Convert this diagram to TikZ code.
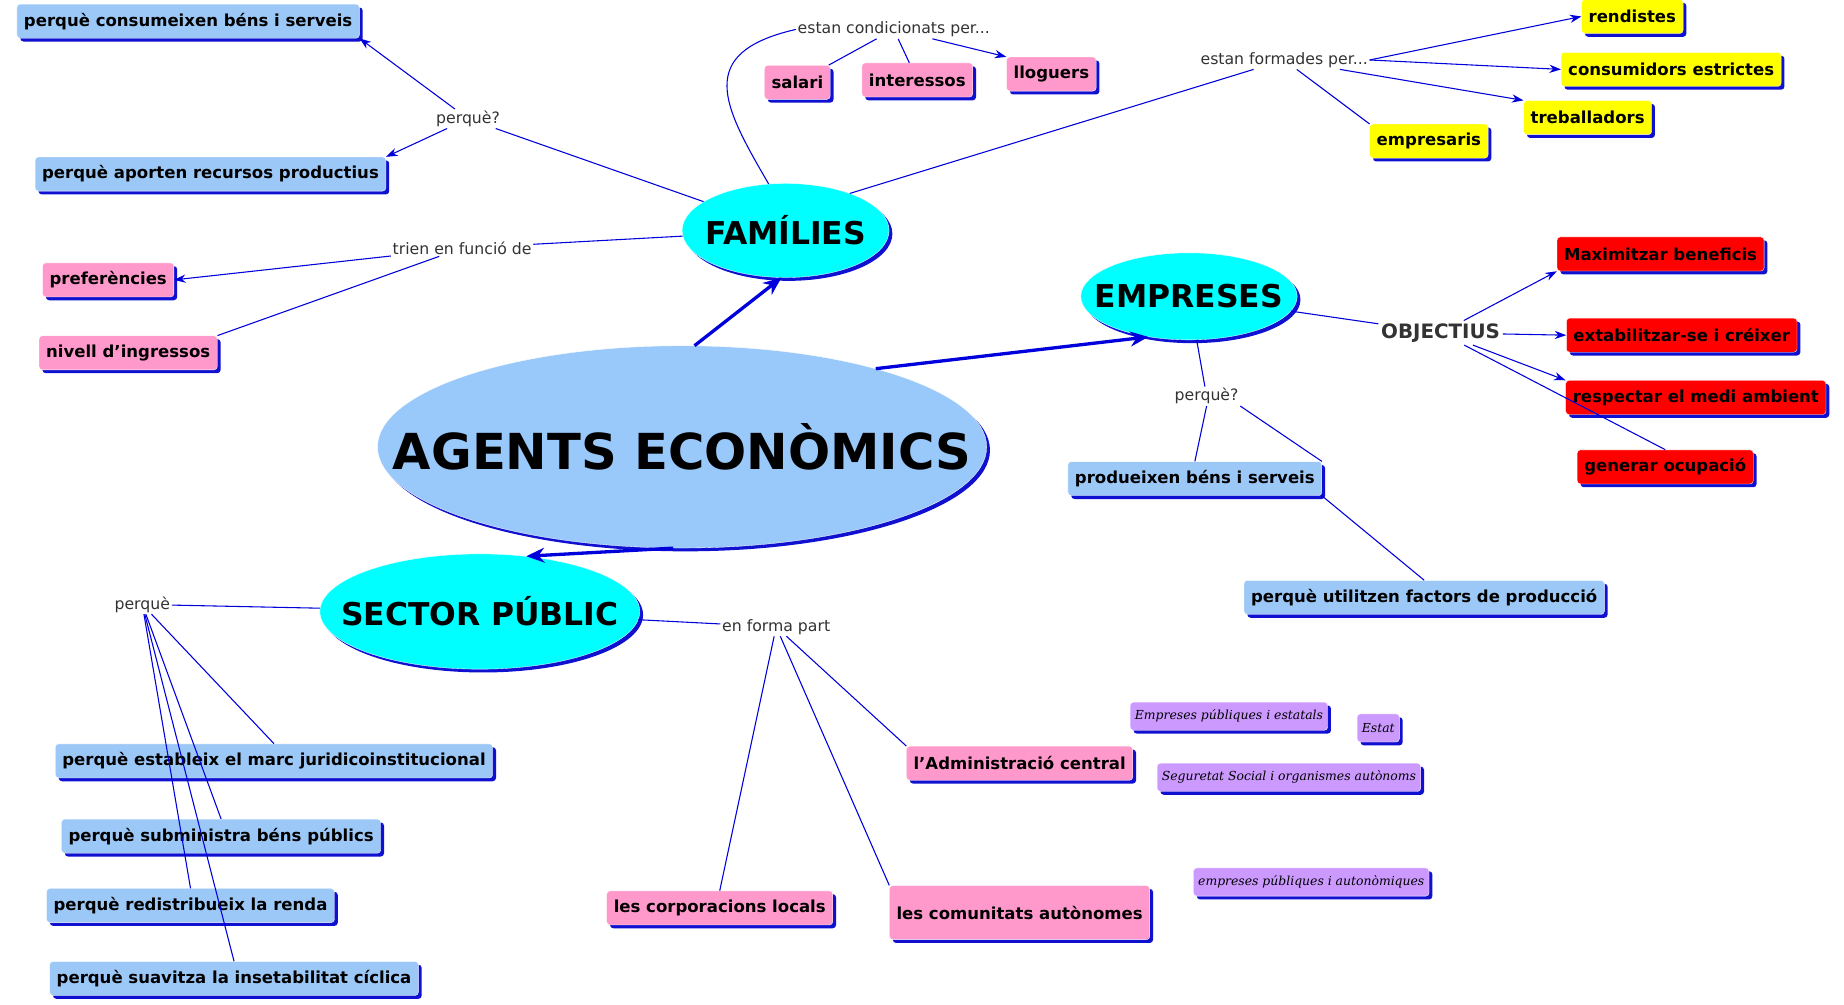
\documentclass[tikz,border=0pt]{standalone}
\usepackage{fontspec}
\setmainfont{DejaVu Sans}
\newfontfamily\handfont{DejaVu Serif}
\usetikzlibrary{arrows.meta, positioning, shapes.geometric, shadows}
\definecolor{skyblue}{HTML}{99C8FA}
\definecolor{topiccyan}{HTML}{00FFFF}
\definecolor{boxblue}{HTML}{9CC8F8}
\definecolor{pinkbox}{HTML}{FF99CC}
\definecolor{yellowbox}{HTML}{FFFF00}
\definecolor{redbox}{HTML}{FF0000}
\definecolor{purplebox}{HTML}{CC99FF}
\definecolor{linkblue}{HTML}{0000DD}
\definecolor{shadowblue}{HTML}{1010D0}
\tikzset{
  shade/.style={drop shadow={shadow xshift=4pt, shadow yshift=-4pt, fill=shadowblue, opacity=1}},
  box/.style={rectangle, rounded corners=4pt, shade, draw=white, font=\fontsize{20}{23}\selectfont\bfseries,
    minimum height=1.45cm, inner xsep=0.3cm},
  bluebox/.style={box, fill=boxblue},
  pinkb/.style={box, fill=pinkbox},
  yellowb/.style={box, fill=yellowbox},
  redb/.style={box, fill=redbox},
  purpleb/.style={box, fill=purplebox, font=\fontsize{15}{17}\selectfont\handfont\itshape, minimum height=1.2cm, inner xsep=0.2cm},
  topic/.style={ellipse, fill=topiccyan, draw=white, shade, inner sep=0pt},
  topictext/.style={font=\fontsize{38}{42}\selectfont\bfseries},
  lbl/.style={text=black!80, font=\fontsize{19}{22}\selectfont, fill=white, inner sep=2pt},
  link/.style={linkblue, line width=1.3pt},
  arr/.style={link, -{Stealth[length=14pt, width=10pt]}},
  bigarr/.style={linkblue, line width=4pt, -{Stealth[length=22pt, width=18pt]}}
}
\begin{document}
\begin{tikzpicture}[x=0.05cm, y=-0.05cm]
  \useasboundingbox[fill=white] (0,0) rectangle (1568,854);

  % central concept and the three agents
  \node[ellipse, fill=skyblue, draw=white, shade, minimum width=25.9cm, minimum height=8.6cm, inner sep=0pt] (agents) at (580,380) {};
  \node[font=\fontsize{60}{64}\selectfont\bfseries] at (agents) {AGENTS ECONÒMICS};
  \node[topic, minimum width=8.8cm, minimum height=4cm] (families) at (668,196) {};
  \node[topictext] at (families) {FAMÍLIES};
  \node[topic, minimum width=9.2cm, minimum height=3.7cm] (empreses) at (1011,252) {};
  \node[topictext] at (empreses) {EMPRESES};
  \node[topic, minimum width=13.6cm, minimum height=4.9cm] (sector) at (408,520) {};
  \node[topictext] at (sector) {SECTOR PÚBLIC};

  % famílies
  \node[lbl] (fperque) at (398,101) {perquè?};
  \node[bluebox] (consumeixen) at (160,18) {perquè consumeixen béns i serveis};
  \node[bluebox] (aporten) at (179,148) {perquè aporten recursos productius};
  \node[lbl] (trien) at (393,211) {trien en funció de};
  \node[pinkb] (preferencies) at (92,238) {preferències};
  \node[pinkb] (nivell) at (109,300) {nivell d'ingressos};
  \node[lbl] (condicionats) at (760,25) {estan condicionats per...};
  \node[pinkb] (salari) at (678,70) {salari};
  \node[pinkb] (interessos) at (780,68) {interessos};
  \node[pinkb] (lloguers) at (894,63) {lloguers};
  \node[lbl] (formades) at (1092,51) {estan formades per...};
  \node[yellowb] (rendistes) at (1388,14) {rendistes};
  \node[yellowb] (consumidors) at (1421,59) {consumidors estrictes};
  \node[yellowb] (treballadors) at (1350,100) {treballadors};
  \node[yellowb] (empresaris) at (1215,120) {empresaris};

  % empreses
  \node[text=black!80, font=\fontsize{24}{26}\selectfont\bfseries] (objectius) at (1225,283) {OBJECTIUS};
  \node[redb] (maximitzar) at (1412,216) {Maximitzar beneficis};
  \node[redb] (extabilitzar) at (1430,285) {extabilitzar-se i créixer};
  \node[redb] (respectar) at (1442,338) {respectar el medi ambient};
  \node[redb] (ocupacio) at (1416,397) {generar ocupació};
  \node[lbl] (eperque) at (1026,337) {perquè?};
  \node[bluebox] (produeixen) at (1016,407) {produeixen béns i serveis};
  \node[bluebox] (utilitzen) at (1211,508) {perquè utilitzen factors de producció};

  % sector públic
  \node[lbl] (sperque) at (121,514) {perquè};
  \node[bluebox] (estableix) at (233,647) {perquè estableix el marc juridicoinstitucional};
  \node[bluebox] (subministra) at (188,711) {perquè subministra béns públics};
  \node[bluebox] (redistribueix) at (162,770) {perquè redistribueix la renda};
  \node[bluebox] (suavitza) at (199,832) {perquè suavitza la insetabilitat cíclica};
  \node[lbl] (formapart) at (660,533) {en forma part};
  \node[pinkb] (corporacions) at (612,772) {les corporacions locals};
  \node[pinkb, minimum height=2.3cm] (comunitats) at (867,776) {les comunitats autònomes};
  \node[pinkb] (administracio) at (867,649) {l'Administració central};
  \node[purpleb] (emppubliques) at (1045,609) {Empreses públiques i estatals};
  \node[purpleb] (estat) at (1172,619) {Estat};
  \node[purpleb] (seguretat) at (1096,661) {Seguretat Social i organismes autònoms};
  \node[purpleb] (autonomiques) at (1115,750) {empreses públiques i autonòmiques};

  % thick arrows from the centre
  \draw[bigarr] (agents.83) -- (families.265);
  \draw[bigarr] (agents.22) -- (empreses.225);
  \draw[bigarr] (agents.265) -- (sector.50);

  % famílies links
  \draw[link] (families) -- (fperque);
  \draw[arr] (fperque) -- (consumeixen.south east);
  \draw[arr] (fperque) -- (aporten.north east);
  \draw[link] (families) -- (trien);
  \draw[arr] (trien) -- (preferencies.east);
  \draw[link] (trien) -- (nivell.north east);
  \draw[link] (families.110) .. controls (615,90) and (590,45) .. (condicionats.west);
  \draw[link] (condicionats) -- (salari);
  \draw[link] (condicionats) -- (interessos);
  \draw[arr] (condicionats) -- (lloguers.north west);
  \draw[link] (families.30) -- (formades);
  \draw[arr] (formades.east) -- (rendistes.west);
  \draw[arr] (formades.east) -- (consumidors.west);
  \draw[arr] (formades) -- (treballadors.north west);
  \draw[link] (formades) -- (empresaris.north west);

  % empreses links
  \draw[link] (empreses) -- (objectius);
  \draw[arr] (objectius) -- (maximitzar.south west);
  \draw[arr] (objectius) -- (extabilitzar.west);
  \draw[arr] (objectius) -- (respectar.north west);
  \draw[link] (objectius) -- (ocupacio.north);
  \draw[link] (empreses) -- (eperque);
  \draw[link] (eperque.south) -- (produeixen.north);
  \draw[link] (eperque.south east) -- (produeixen.north east);
  \draw[link] (produeixen.south east) -- (utilitzen.north);

  % sector públic links
  \draw[link] (sector) -- (sperque);
  \draw[link] (sperque) -- (estableix.north);
  \draw[link] (sperque) -- (subministra.north);
  \draw[link] (sperque) -- (redistribueix.north);
  \draw[link] (sperque) -- (suavitza.north);
  \draw[link] (sector) -- (formapart);
  \draw[link] (formapart) -- (corporacions.north);
  \draw[link] (formapart) -- (administracio.north west);
  \draw[link] (formapart) -- (comunitats.north west);
\end{tikzpicture}
\end{document}
